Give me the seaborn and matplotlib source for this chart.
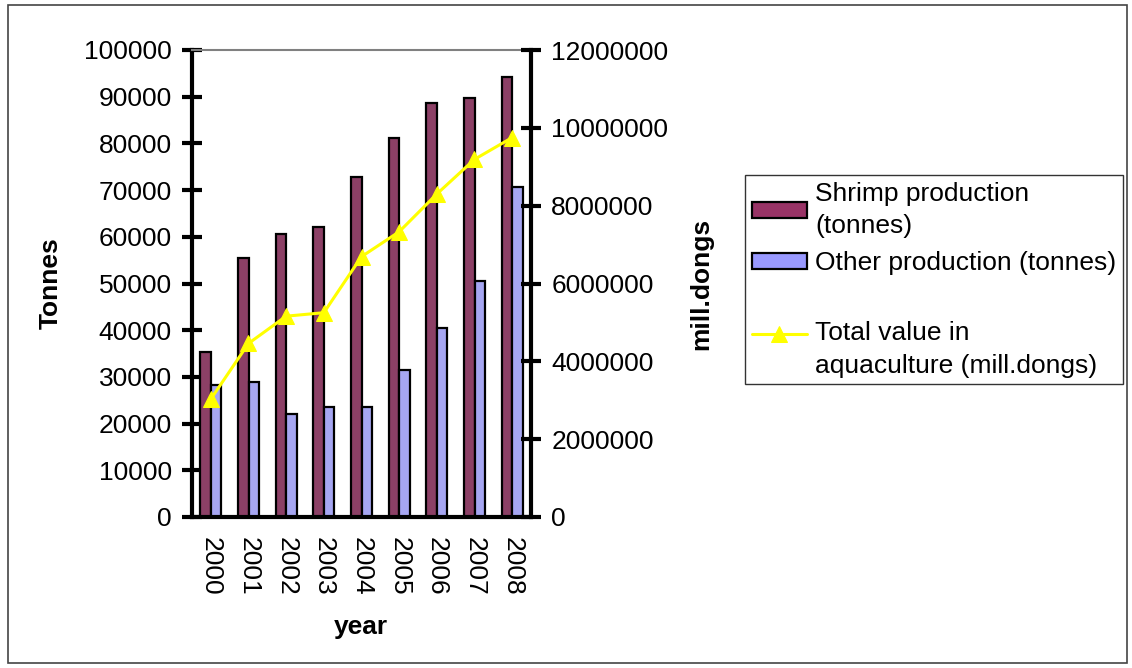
import numpy as np
import pandas as pd
import matplotlib
matplotlib.use("Agg")
import matplotlib.pyplot as plt
from matplotlib.patches import Rectangle
import seaborn as sns

years = ["2000", "2001", "2002", "2003", "2004", "2005", "2006", "2007", "2008"]
shrimp = [35400, 55400, 60600, 62100, 72900, 81100, 88600, 89700, 94300]
other = [28300, 29000, 22000, 23500, 23500, 31500, 40400, 50500, 70700]
total_value = [3030000, 4460000, 5160000, 5250000, 6690000, 7330000, 8300000, 9190000, 9750000]

shrimp_label = "Shrimp production\n(tonnes)"
other_label = "Other production (tonnes)"
total_label = "\nTotal value in\naquaculture (mill.dongs)"

sns.set_style("white")
plt.rcParams["font.family"] = ["Liberation Sans", "DejaVu Sans"]
for k in ["text.color", "axes.labelcolor", "xtick.color", "ytick.color"]:
    plt.rcParams[k] = "black"

df = pd.DataFrame({
    "year": years * 2,
    "value": shrimp + other,
    "series": ["Shrimp"] * len(years) + ["Other"] * len(years),
})

W, H = 1132, 668
fig = plt.figure(figsize=(W / 100, H / 100), dpi=100)
fig.add_artist(Rectangle((8 / W, 1 - 663 / H), (1127 - 8) / W, (663 - 5) / H,
                         transform=fig.transFigure, fill=False,
                         edgecolor="#444444", linewidth=1.2))

ax = fig.add_axes([192 / W, 1 - 517 / H, (531 - 192) / W, (517 - 50) / H])
sns.barplot(data=df, x="year", y="value", hue="series", order=years,
            hue_order=["Shrimp", "Other"], palette=["#993366", "#9999FF"],
            width=0.56, edgecolor="black", linewidth=1.6, errorbar=None,
            legend=False, ax=ax, zorder=2)

ax2 = ax.twinx()
sns.lineplot(x=np.arange(len(years)), y=total_value, ax=ax2, color="#FFFF00",
             marker="^", markersize=12, markeredgecolor="#FFFF00",
             linewidth=2.2, sort=False, zorder=3)

FS = 19
ax.set_xlim(-0.5, len(years) - 0.5)
ax.set_ylim(0, 100000)
ax2.set_ylim(0, 12000000)
ax.set_yticks(np.arange(0, 100001, 10000))
ax.set_yticklabels([f"{v:d}" for v in range(0, 100001, 10000)], fontsize=FS)
ax2.set_yticks(np.arange(0, 12000001, 2000000))
ax2.set_yticklabels([f"{v:d}" for v in range(0, 12000001, 2000000)], fontsize=FS)
ax.set_xticks(np.arange(len(years)))
ax.set_xticklabels(years, rotation=270, fontsize=FS)
ax.set_xticks(np.arange(len(years) + 1) - 0.5, minor=True)

ax.tick_params(axis="x", which="major", length=0, pad=7.5 + 7.0)
ax.tick_params(axis="x", which="minor", direction="inout", length=15, width=3, color="black")
ax.tick_params(axis="y", direction="inout", length=15, width=3, color="black", pad=7.0)
ax2.tick_params(axis="y", direction="inout", length=15, width=3, color="black", pad=7.0)

for sp in ["left", "bottom"]:
    ax.spines[sp].set_linewidth(3)
    ax.spines[sp].set_color("black")
ax.spines["right"].set_visible(False)
ax.spines["top"].set_color("#808080")
ax.spines["top"].set_linewidth(1.5)
ax2.spines["right"].set_linewidth(3)
ax2.spines["right"].set_color("black")
for sp in ["left", "top", "bottom"]:
    ax2.spines[sp].set_visible(False)
ax.grid(False)
ax2.grid(False)

ax.set_xlabel("year", fontsize=FS, fontweight="bold")
ax.set_ylabel("Tonnes", fontsize=FS, fontweight="bold")
ax2.set_ylabel("mill.dongs", fontsize=FS, fontweight="bold", rotation=90)
ax.xaxis.set_label_coords(0.4985, -0.2355)
ax.xaxis.label.set_va("center")
ax.yaxis.set_label_coords((51 - 192) / 339, 0.5)
ax.yaxis.label.set_va("center")
ax2.yaxis.set_label_coords((701 - 192) / 339, 0.5)
ax2.yaxis.label.set_va("center")

h1 = Rectangle((0, 0), 1, 1, facecolor="#993366", edgecolor="black", linewidth=1.6)
h2 = Rectangle((0, 0), 1, 1, facecolor="#9999FF", edgecolor="black", linewidth=1.6)
h3 = ax2.get_lines()[0]
leg = fig.legend([h1, h2, h3], [shrimp_label, other_label, total_label],
                 loc="upper left", bbox_to_anchor=(745 / W, 1 - 175 / H),
                 fontsize=FS, frameon=True, fancybox=False, shadow=False,
                 handlelength=2.1, handleheight=0.55, handletextpad=0.3,
                 borderpad=0.25, labelspacing=0.5, borderaxespad=0)
for t in leg.get_texts():
    t.set_linespacing(1.45)
leg.get_frame().set_edgecolor("black")
leg.get_frame().set_linewidth(1.0)

fig.savefig("out.png", dpi=100)
